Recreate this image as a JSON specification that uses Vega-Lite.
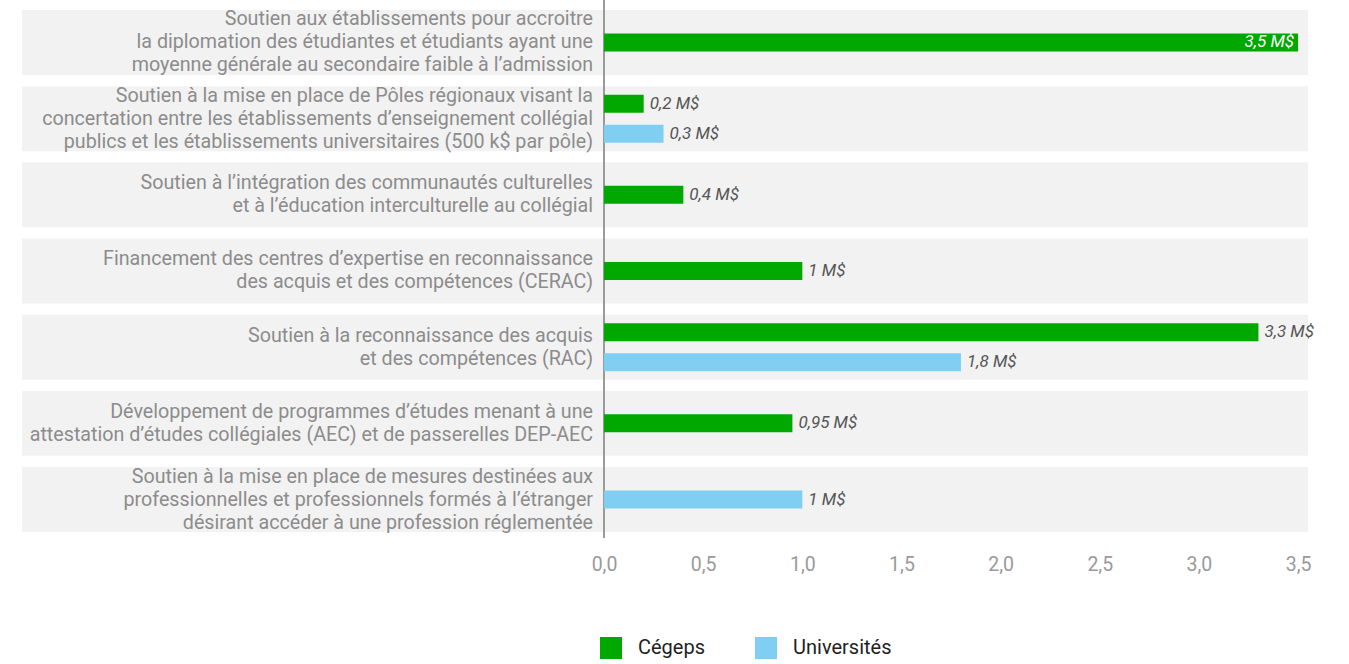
{
  "$schema": "https://vega.github.io/schema/vega-lite/v6.json",
  "width": 1286,
  "height": 538,
  "autosize": {"type": "none"},
  "padding": {"left": 22, "top": 0, "right": 41, "bottom": 126},
  "background": "white",
  "config": {"view": {"stroke": null}, "font": "Roboto"},
  "data": {
    "values": [
      {"category": "Soutien aux établissements pour accroitre\nla diplomation des étudiantes et étudiants ayant une\nmoyenne générale au secondaire faible à l’admission", "series": "Cégeps", "value": 3.5, "label": "3,5 M$"},
      {"category": "Soutien à la mise en place de Pôles régionaux visant la\nconcertation entre les établissements d’enseignement collégial\npublics et les établissements universitaires (500 k$ par pôle)", "series": "Cégeps", "value": 0.2, "label": "0,2 M$"},
      {"category": "Soutien à la mise en place de Pôles régionaux visant la\nconcertation entre les établissements d’enseignement collégial\npublics et les établissements universitaires (500 k$ par pôle)", "series": "Universités", "value": 0.3, "label": "0,3 M$"},
      {"category": "Soutien à l’intégration des communautés culturelles\net à l’éducation interculturelle au collégial", "series": "Cégeps", "value": 0.4, "label": "0,4 M$"},
      {"category": "Financement des centres d’expertise en reconnaissance\ndes acquis et des compétences (CERAC)", "series": "Cégeps", "value": 1, "label": "1 M$"},
      {"category": "Soutien à la reconnaissance des acquis\net des compétences (RAC)", "series": "Cégeps", "value": 3.3, "label": "3,3 M$"},
      {"category": "Soutien à la reconnaissance des acquis\net des compétences (RAC)", "series": "Universités", "value": 1.8, "label": "1,8 M$"},
      {"category": "Développement de programmes d’études menant à une\nattestation d’études collégiales (AEC) et de passerelles DEP-AEC", "series": "Cégeps", "value": 0.95, "label": "0,95 M$"},
      {"category": "Soutien à la mise en place de mesures destinées aux\nprofessionnelles et professionnels formés à l’étranger\ndésirant accéder à une profession réglementée", "series": "Universités", "value": 1, "label": "1 M$"}
    ]
  },
  "transform": [
    {"joinaggregate": [{"op": "count", "as": "n"}], "groupby": ["category"]},
    {"calculate": "datum.n == 1 ? 'mid' : (datum.series == 'Cégeps' ? 'top' : 'bottom')", "as": "slot"}
  ],
  "encoding": {
    "y": {
      "field": "category", "type": "nominal", "sort": null, "axis": null,
      "scale": {"paddingInner": 0.147, "paddingOuter": 0.105, "align": 0.625}
    }
  },
  "layer": [
    {
      "transform": [{"aggregate": [{"op": "count", "as": "c"}], "groupby": ["category"]}],
      "mark": {"type": "rect", "color": "#000000", "opacity": 0.05},
      "encoding": {
        "x": {
          "datum": -2.935, "type": "quantitative",
          "scale": {"domain": [-2.935, 3.55], "nice": false, "zero": false},
          "axis": {
            "values": [0, 0.5, 1, 1.5, 2, 2.5, 3, 3.5],
            "labelExpr": "replace(format(datum.value, '.1f'), '.', ',')",
            "domain": false, "ticks": false, "title": null,
            "labelPadding": 17, "labelFontSize": 19.5, "labelColor": "#9a9a9a", "labelFont": "Roboto",
            "gridColor": "#e2e2e2", "gridWidth": 1
          }
        },
        "x2": {"datum": 3.55}
      }
    },
    {
      "mark": {"type": "rule", "color": "#9a9a9a", "strokeWidth": 1},
      "encoding": {"x": {"datum": 0, "type": "quantitative"}, "y": null}
    },
    {
      "mark": {"type": "bar", "height": 18},
      "encoding": {
        "x": {"field": "value", "type": "quantitative"},
        "yOffset": {"field": "slot", "type": "nominal", "scale": {"domain": ["top", "mid", "bottom"], "paddingInner": 0, "paddingOuter": 0.667}},
        "color": {
          "field": "series", "type": "nominal",
          "scale": {"domain": ["Cégeps", "Universités"], "range": ["#00a800", "#80cff2"]},
          "legend": {
            "title": null, "orient": "none", "direction": "horizontal",
            "legendX": 578, "legendY": 637,
            "symbolType": "square", "symbolSize": 484, "symbolStrokeWidth": 0,
            "labelFontSize": 20, "labelColor": "#222222", "labelFont": "Roboto",
            "labelOffset": 16, "columnPadding": 49
          }
        }
      }
    },
    {
      "transform": [{"filter": "datum.value < 3.5"}],
      "mark": {"type": "text", "align": "left", "baseline": "middle", "dx": 6, "fontStyle": "italic", "fontSize": 17, "color": "#555555", "font": "Roboto"},
      "encoding": {
        "x": {"field": "value", "type": "quantitative"},
        "yOffset": {"field": "slot", "type": "nominal"},
        "text": {"field": "label"}
      }
    },
    {
      "transform": [{"filter": "datum.value >= 3.5"}],
      "mark": {"type": "text", "align": "right", "baseline": "middle", "dx": -4, "fontStyle": "italic", "fontSize": 17, "color": "#ffffff", "font": "Roboto"},
      "encoding": {
        "x": {"field": "value", "type": "quantitative"},
        "yOffset": {"field": "slot", "type": "nominal"},
        "text": {"field": "label"}
      }
    },
    {
      "transform": [
        {"aggregate": [{"op": "count", "as": "c"}], "groupby": ["category"]},
        {"calculate": "length(split(datum.category, '\\n'))", "as": "lines"},
        {"filter": "datum.lines == 3"}
      ],
      "mark": {"type": "text", "align": "right", "baseline": "middle", "dx": -11, "dy": -23, "fontSize": 19.7, "lineHeight": 23, "lineBreak": "\n", "color": "#8c8c8c", "font": "Roboto"},
      "encoding": {
        "x": {"datum": 0, "type": "quantitative"},
        "text": {"field": "category"}
      }
    },
    {
      "transform": [
        {"aggregate": [{"op": "count", "as": "c"}], "groupby": ["category"]},
        {"calculate": "length(split(datum.category, '\\n'))", "as": "lines"},
        {"filter": "datum.lines == 2"}
      ],
      "mark": {"type": "text", "align": "right", "baseline": "middle", "dx": -11, "dy": -11.5, "fontSize": 19.7, "lineHeight": 23, "lineBreak": "\n", "color": "#8c8c8c", "font": "Roboto"},
      "encoding": {
        "x": {"datum": 0, "type": "quantitative"},
        "text": {"field": "category"}
      }
    }
  ]
}
